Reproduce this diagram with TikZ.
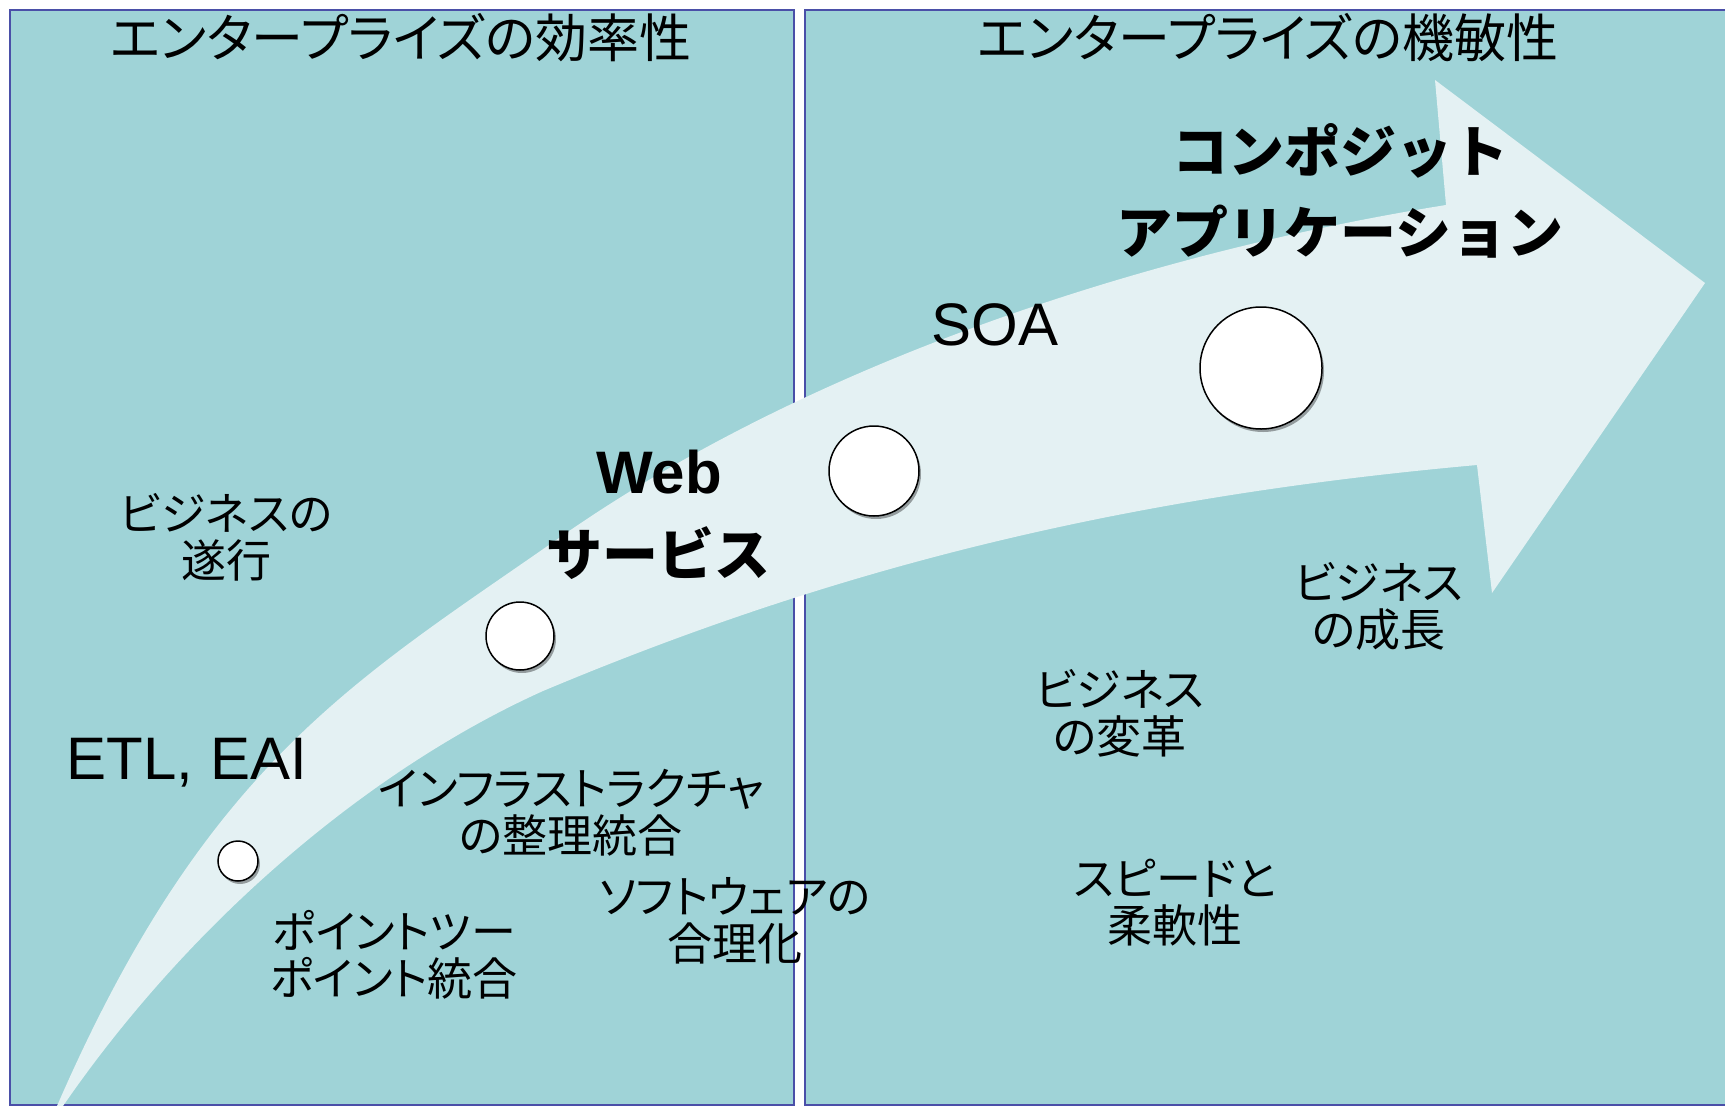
\documentclass[tikz,border=0pt]{standalone}
\usepackage{fontspec}
\setmainfont{Noto Sans CJK JP}
\newfontfamily\jpp{Noto Sans CJK JP}[RawFeature=+palt]
\newfontfamily\lat{Liberation Sans}
\usetikzlibrary{shadows}
\definecolor{panel}{HTML}{9FD3D7}
\definecolor{arrowc}{HTML}{E4F1F3}
\definecolor{frame}{HTML}{4A4FA8}
\tikzset{
  panelbox/.style={fill=panel, draw=frame, line width=2pt},
  dot/.style={circle, fill=white, draw=black, line width=1.5pt, inner sep=0pt,
    drop shadow={shadow xshift=2pt, shadow yshift=-3pt, opacity=0.35, fill=black}},
  ttl/.style={font=\jpp\fontsize{52}{60}\selectfont, inner sep=0pt},
  lbl/.style={font=\jpp\fontsize{45}{47}\selectfont, align=center, inner sep=0pt},
  big/.style={font=\bfseries\fontsize{56}{81}\selectfont, align=center, inner sep=0pt},
  latin/.style={font=\lat\fontsize{60}{64}\selectfont, inner sep=0pt, anchor=base},
}
\begin{document}
\begin{tikzpicture}[x=1pt,y=-1pt]
\useasboundingbox (0,0) rectangle (1725,1106);
\fill[white] (0,0) rectangle (1725,1106);
\begin{scope}
\clip (0,0) rectangle (1725,1106);
% panels
\draw[panelbox] (10,10) rectangle (794,1105);
\draw[panelbox] (805,10) rectangle (1740,1105);
% big arrow
\fill[arrowc] (57,1106) .. controls (207,761) and (359,678) .. (559,538)
  .. controls (809,363) and (1146,253) .. (1446,205)
  -- (1435,80) -- (1705,283) -- (1492,593) -- (1477,465)
  .. controls (1127,496.5) and (843,565) .. (543,691)
  .. controls (373,767.5) and (193,917.5) .. (63,1106) -- cycle;
\end{scope}
% circles
\node[dot, minimum size=40pt] (c1) at (238,861) {};
\node[dot, minimum size=68pt] (c2) at (520,636) {};
\node[dot, minimum size=90pt] (c3) at (874,471) {};
\node[dot, minimum size=122pt] (c4) at (1261,368) {};
% titles
\node[ttl] (t1) at (401,38) {エンタープライズの効率性};
\node[ttl] (t2) at (1268,38) {エンタープライズの機敏性};
% stage labels
\node[latin] (etl) at (187,779) {ETL, EAI};
\node[latin, font=\lat\bfseries\fontsize{60}{64}\selectfont] (web) at (659,493) {Web};
\node[big] (svc) at (658,553) {サービス};
\node[latin] (soa) at (995,345) {SOA};
\node[big] (comp) at (1340,191) {コンポジット\\アプリケーション};
% benefit labels
\node[lbl] (l1) at (226,537) {ビジネスの\\遂行};
\node[lbl] (l2) at (571,813) {インフラストラクチャ\\の整理統合};
\node[lbl] (l3) at (394,955) {ポイントツー\\ポイント統合};
\node[lbl] (l4) at (735,921) {ソフトウェアの\\合理化};
\node[lbl] (r1) at (1379,606) {ビジネス\\の成長};
\node[lbl] (r2) at (1120,713) {ビジネス\\の変革};
\node[lbl] (r3) at (1175,903) {スピードと\\柔軟性};
\end{tikzpicture}
\end{document}
